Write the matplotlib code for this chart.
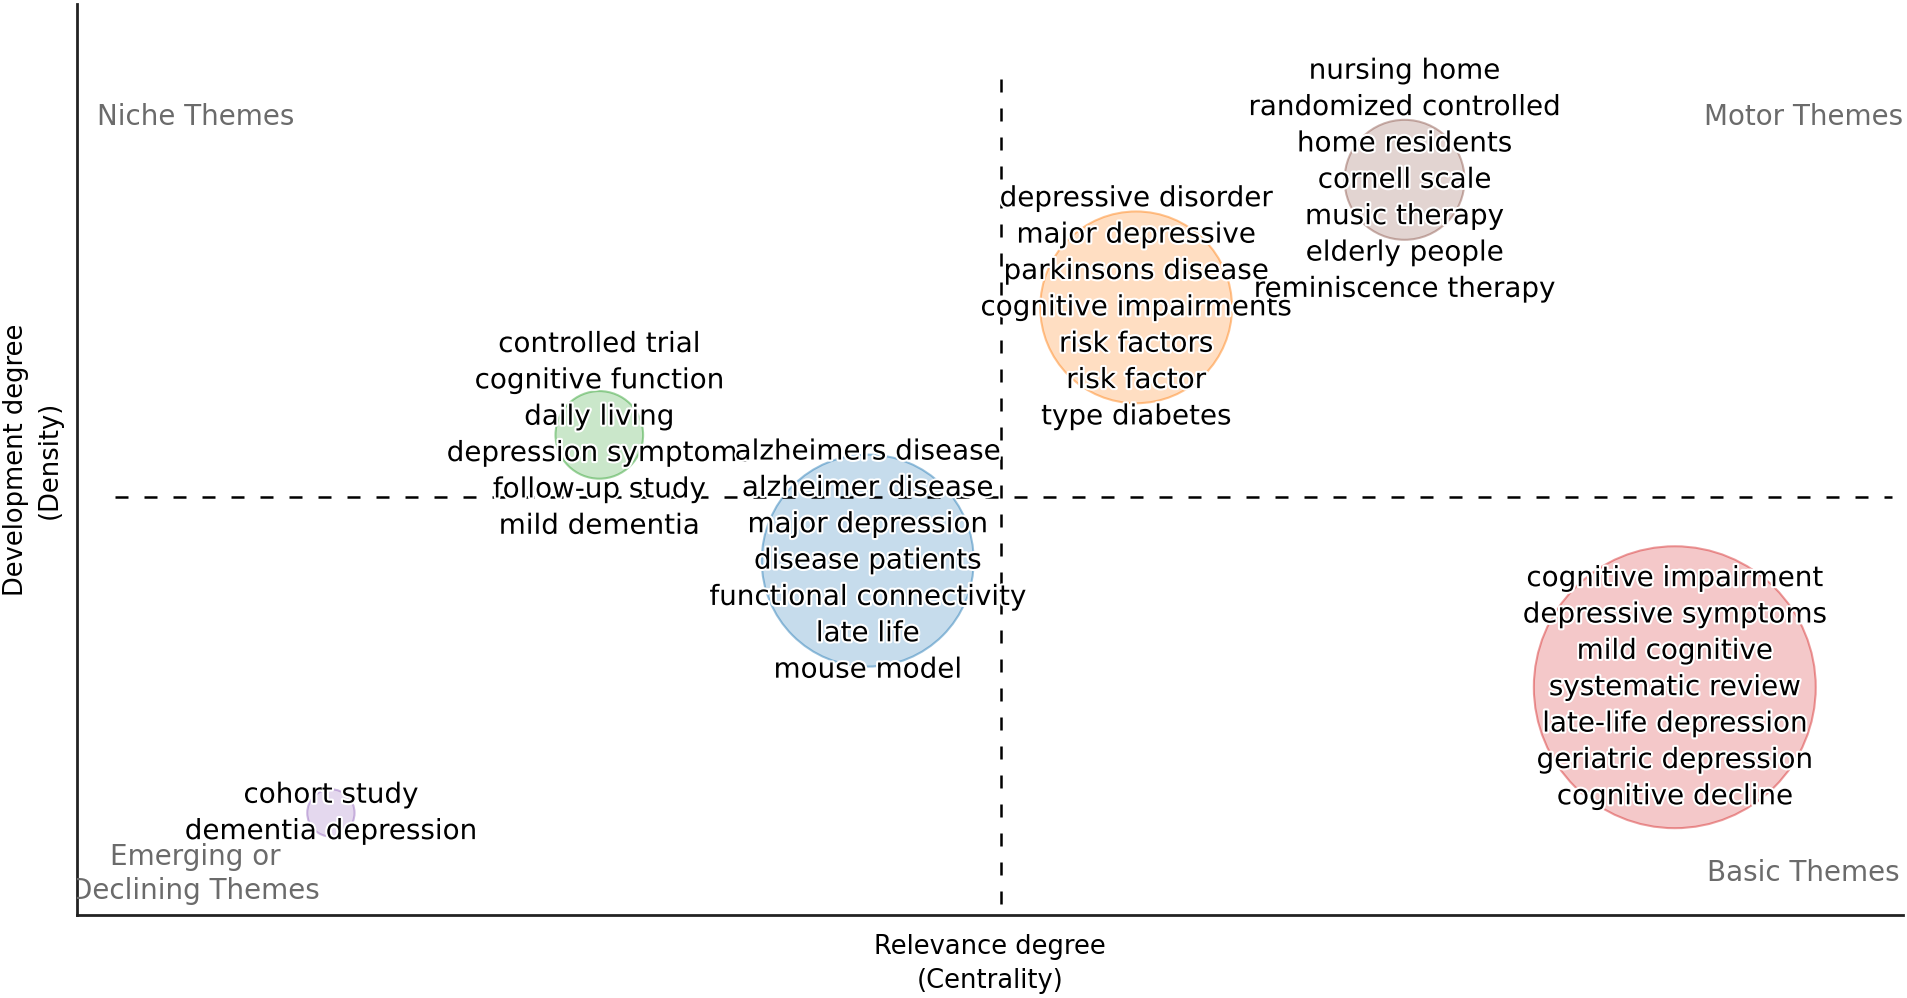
import matplotlib
matplotlib.use("Agg")
import matplotlib.pyplot as plt
import matplotlib.patheffects as pe

# ---- data ----
cluster_centrality = [28.6, 43.3, 58.0, 72.7, 87.5, 13.9]
cluster_density = [52.7, 38.9, 66.7, 80.7, 25.0, 11.2]
cluster_freq = [48, 281, 230, 90, 497, 14]
cluster_colors = ["#2ca02c", "#1f77b4", "#ff7f0e", "#8c564b", "#d62728", "#9467bd"]
cluster_labels = [
    ["controlled trial", "cognitive function", "daily living", "depression symptoms",
     "follow-up study", "mild dementia"],
    ["alzheimers disease", "alzheimer disease", "major depression", "disease patients",
     "functional connectivity", "late life", "mouse model"],
    ["depressive disorder", "major depressive", "parkinsons disease", "cognitive impairments",
     "risk factors", "risk factor", "type diabetes"],
    ["nursing home", "randomized controlled", "home residents", "cornell scale",
     "music therapy", "elderly people", "reminiscence therapy"],
    ["cognitive impairment", "depressive symptoms", "mild cognitive", "systematic review",
     "late-life depression", "geriatric depression", "cognitive decline"],
    ["cohort study", "dementia depression"],
]
centrality_threshold = 50.6
density_threshold = 45.9
quadrant_names = ["Niche Themes", "Motor Themes", "Emerging or\nDeclining Themes", "Basic Themes"]

plt.rcParams['font.family'] = ['DejaVu Sans']
fig = plt.figure(figsize=(19.08, 9.98), dpi=100)
ax = fig.add_axes([0.0404, 0.0832, 0.957, 0.9128])
ax.set_xlim(0, 100)
ax.set_ylim(0, 100)

for x, y, f, c in zip(cluster_centrality, cluster_density, cluster_freq, cluster_colors):
    ax.scatter([x], [y], s=f * 82.9, color=c, alpha=0.25, edgecolors="none", zorder=2)
    ax.scatter([x], [y], s=f * 82.9, facecolors="none", edgecolors=c, alpha=0.45,
               linewidths=1.5, zorder=2)

ax.plot([centrality_threshold, centrality_threshold], [91.8, 0], color="black",
        lw=1.8, linestyle=(0, (5.2, 6.4)), zorder=3)
ax.plot([2.1, 99.4], [density_threshold, density_threshold], color="black",
        lw=1.8, linestyle=(0, (5.2, 6.4)), zorder=3)

halo = [pe.withStroke(linewidth=3.0, foreground="white")]
for x, y, words in zip(cluster_centrality, cluster_density, cluster_labels):
    ax.text(x, y, "\n".join(words), ha="center", va="center", fontsize=20,
            color="black", linespacing=1.38, path_effects=halo, zorder=4)

qc = "#6b6b6b"
ax.text(0.011, 0.876, quadrant_names[0], transform=ax.transAxes, ha="left", va="center",
        fontsize=20, color=qc)
ax.text(1.0, 0.876, quadrant_names[1], transform=ax.transAxes, ha="right", va="center",
        fontsize=20, color=qc)
ax.text(0.065, 0.045, quadrant_names[2], transform=ax.transAxes, ha="center", va="center",
        fontsize=20, color=qc, linespacing=1.3, clip_on=True)
ax.text(0.998, 0.046, quadrant_names[3], transform=ax.transAxes, ha="right", va="center",
        fontsize=20, color=qc)

for s in ["top", "right"]:
    ax.spines[s].set_visible(False)
for s in ["left", "bottom"]:
    ax.spines[s].set_linewidth(2)
    ax.spines[s].set_color("#222222")
ax.set_xticks([])
ax.set_yticks([])
ax.set_xlabel("Relevance degree\n(Centrality)", fontsize=18.5, labelpad=14, linespacing=1.4)
ax.set_ylabel("Development degree\n(Density)", fontsize=18.5, labelpad=10, linespacing=1.4)

fig.savefig("out.png", dpi=100, facecolor="white")
